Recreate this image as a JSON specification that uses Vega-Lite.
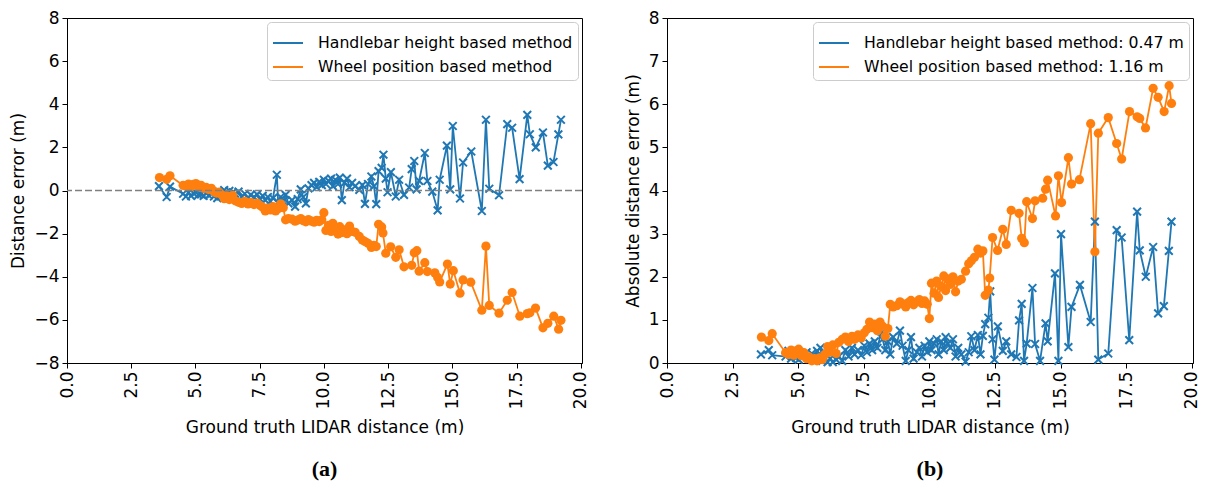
{
  "$schema": "https://vega.github.io/schema/vega-lite/v6.json",
  "padding": {"left": 9, "top": 8, "right": 5, "bottom": 4},
  "spacing": 33,
  "background": "white",
  "resolve": {"scale": {"color": "independent"}, "legend": {"color": "independent"}},
  "config": {
    "view": {"stroke": "black", "strokeWidth": 1},
    "axis": {"grid": false, "domainColor": "black", "tickColor": "black", "labelColor": "black", "titleColor": "black", "labelFont": "DejaVu Sans", "titleFont": "DejaVu Sans", "labelFontSize": 17, "titleFontSize": 17, "titleFontWeight": "normal", "tickSize": 5, "labelPadding": 3},
    "axisX": {"titlePadding": 11},
    "axisY": {"titlePadding": 6},
    "legend": {"orient": "top-right", "offset": 4, "fillColor": "white", "strokeColor": "#cccccc", "cornerRadius": 4, "padding": 5, "labelFont": "DejaVu Sans", "labelFontSize": 15.7, "labelColor": "black", "labelLimit": 0, "symbolType": "stroke", "symbolSize": 900, "symbolStrokeWidth": 2, "rowPadding": -6, "labelOffset": 14},
    "title": {"font": "Liberation Serif", "fontSize": 22, "fontWeight": "bold", "color": "black", "orient": "bottom", "anchor": "middle", "offset": 23}
  },
  "datasets": {
    "d": [
      {"m":"h","x":3.58,"e":0.20,"a":0.20},{"m":"h","x":3.88,"e":-0.30,"a":0.30},{"m":"h","x":4.01,"e":0.18,"a":0.18},{"m":"h","x":4.52,"e":-0.15,"a":0.15},{"m":"h","x":4.63,"e":-0.28,"a":0.28},{"m":"h","x":4.73,"e":-0.10,"a":0.10},{"m":"h","x":4.83,"e":-0.25,"a":0.25},{"m":"h","x":4.92,"e":-0.12,"a":0.12},{"m":"h","x":5.02,"e":-0.08,"a":0.08},{"m":"h","x":5.12,"e":-0.20,"a":0.20},{"m":"h","x":5.22,"e":-0.18,"a":0.18},{"m":"h","x":5.32,"e":-0.25,"a":0.25},{"m":"h","x":5.42,"e":-0.12,"a":0.12},{"m":"h","x":5.52,"e":-0.22,"a":0.22},{"m":"h","x":5.62,"e":-0.15,"a":0.15},{"m":"h","x":5.72,"e":-0.28,"a":0.28},{"m":"h","x":5.85,"e":-0.35,"a":0.35},{"m":"h","x":5.92,"e":-0.05,"a":0.05},{"m":"h","x":6.02,"e":-0.22,"a":0.22},{"m":"h","x":6.12,"e":0.02,"a":0.02},{"m":"h","x":6.22,"e":-0.10,"a":0.10},{"m":"h","x":6.32,"e":-0.02,"a":0.02},{"m":"h","x":6.45,"e":-0.08,"a":0.08},{"m":"h","x":6.55,"e":-0.15,"a":0.15},{"m":"h","x":6.68,"e":-0.05,"a":0.05},{"m":"h","x":6.80,"e":-0.30,"a":0.30},{"m":"h","x":6.92,"e":-0.15,"a":0.15},{"m":"h","x":7.05,"e":-0.35,"a":0.35},{"m":"h","x":7.15,"e":-0.20,"a":0.20},{"m":"h","x":7.28,"e":-0.30,"a":0.30},{"m":"h","x":7.40,"e":-0.18,"a":0.18},{"m":"h","x":7.52,"e":-0.40,"a":0.40},{"m":"h","x":7.62,"e":-0.25,"a":0.25},{"m":"h","x":7.72,"e":-0.45,"a":0.45},{"m":"h","x":7.82,"e":-0.30,"a":0.30},{"m":"h","x":7.92,"e":-0.50,"a":0.50},{"m":"h","x":8.02,"e":-0.35,"a":0.35},{"m":"h","x":8.17,"e":0.73,"a":0.73},{"m":"h","x":8.22,"e":-0.55,"a":0.55},{"m":"h","x":8.32,"e":-0.30,"a":0.30},{"m":"h","x":8.42,"e":-0.50,"a":0.50},{"m":"h","x":8.51,"e":-0.20,"a":0.20},{"m":"h","x":8.62,"e":-0.60,"a":0.60},{"m":"h","x":8.76,"e":-0.45,"a":0.45},{"m":"h","x":8.88,"e":-0.75,"a":0.75},{"m":"h","x":8.98,"e":-0.40,"a":0.40},{"m":"h","x":9.10,"e":0.05,"a":0.05},{"m":"h","x":9.20,"e":-0.30,"a":0.30},{"m":"h","x":9.30,"e":-0.60,"a":0.60},{"m":"h","x":9.40,"e":0.10,"a":0.10},{"m":"h","x":9.52,"e":0.25,"a":0.25},{"m":"h","x":9.62,"e":0.35,"a":0.35},{"m":"h","x":9.72,"e":0.15,"a":0.15},{"m":"h","x":9.82,"e":0.40,"a":0.40},{"m":"h","x":9.92,"e":0.25,"a":0.25},{"m":"h","x":10.00,"e":0.50,"a":0.50},{"m":"h","x":10.08,"e":0.30,"a":0.30},{"m":"h","x":10.18,"e":0.45,"a":0.45},{"m":"h","x":10.28,"e":0.55,"a":0.55},{"m":"h","x":10.35,"e":0.20,"a":0.20},{"m":"h","x":10.45,"e":0.50,"a":0.50},{"m":"h","x":10.55,"e":0.30,"a":0.30},{"m":"h","x":10.62,"e":0.60,"a":0.60},{"m":"h","x":10.70,"e":-0.45,"a":0.45},{"m":"h","x":10.80,"e":0.35,"a":0.35},{"m":"h","x":10.90,"e":0.55,"a":0.55},{"m":"h","x":11.00,"e":0.15,"a":0.15},{"m":"h","x":11.10,"e":0.35,"a":0.35},{"m":"h","x":11.22,"e":0.20,"a":0.20},{"m":"h","x":11.38,"e":0.03,"a":0.03},{"m":"h","x":11.50,"e":0.25,"a":0.25},{"m":"h","x":11.60,"e":-0.62,"a":0.62},{"m":"h","x":11.72,"e":0.30,"a":0.30},{"m":"h","x":11.85,"e":0.65,"a":0.65},{"m":"h","x":11.95,"e":0.20,"a":0.20},{"m":"h","x":12.04,"e":-0.63,"a":0.63},{"m":"h","x":12.13,"e":0.90,"a":0.90},{"m":"h","x":12.25,"e":1.05,"a":1.05},{"m":"h","x":12.32,"e":1.66,"a":1.66},{"m":"h","x":12.41,"e":0.55,"a":0.55},{"m":"h","x":12.48,"e":-0.08,"a":0.08},{"m":"h","x":12.61,"e":0.85,"a":0.85},{"m":"h","x":12.80,"e":-0.28,"a":0.28},{"m":"h","x":12.93,"e":0.50,"a":0.50},{"m":"h","x":13.12,"e":-0.20,"a":0.20},{"m":"h","x":13.32,"e":0.14,"a":0.14},{"m":"h","x":13.42,"e":0.99,"a":0.99},{"m":"h","x":13.52,"e":1.37,"a":1.37},{"m":"h","x":13.61,"e":0.05,"a":0.05},{"m":"h","x":13.71,"e":0.45,"a":0.45},{"m":"h","x":13.93,"e":1.74,"a":1.74},{"m":"h","x":14.03,"e":0.44,"a":0.44},{"m":"h","x":14.22,"e":-0.05,"a":0.05},{"m":"h","x":14.43,"e":-0.92,"a":0.92},{"m":"h","x":14.51,"e":0.50,"a":0.50},{"m":"h","x":14.79,"e":2.08,"a":2.08},{"m":"h","x":14.92,"e":0.05,"a":0.05},{"m":"h","x":15.02,"e":2.99,"a":2.99},{"m":"h","x":15.30,"e":-0.37,"a":0.37},{"m":"h","x":15.42,"e":1.30,"a":1.30},{"m":"h","x":15.74,"e":1.81,"a":1.81},{"m":"h","x":16.15,"e":-0.95,"a":0.95},{"m":"h","x":16.31,"e":3.28,"a":3.28},{"m":"h","x":16.44,"e":0.08,"a":0.08},{"m":"h","x":16.82,"e":-0.22,"a":0.22},{"m":"h","x":17.14,"e":3.08,"a":3.08},{"m":"h","x":17.33,"e":2.91,"a":2.91},{"m":"h","x":17.62,"e":0.53,"a":0.53},{"m":"h","x":17.92,"e":3.51,"a":3.51},{"m":"h","x":18.02,"e":2.61,"a":2.61},{"m":"h","x":18.25,"e":2.00,"a":2.00},{"m":"h","x":18.53,"e":2.69,"a":2.69},{"m":"h","x":18.72,"e":1.15,"a":1.15},{"m":"h","x":18.94,"e":1.32,"a":1.32},{"m":"h","x":19.13,"e":2.60,"a":2.60},{"m":"h","x":19.23,"e":3.28,"a":3.28},
      {"m":"w","x":3.60,"e":0.60,"a":0.60},{"m":"w","x":3.88,"e":0.52,"a":0.52},{"m":"w","x":4.01,"e":0.68,"a":0.68},{"m":"w","x":4.52,"e":0.24,"a":0.24},{"m":"w","x":4.63,"e":0.20,"a":0.20},{"m":"w","x":4.73,"e":0.30,"a":0.30},{"m":"w","x":4.83,"e":0.18,"a":0.18},{"m":"w","x":4.92,"e":0.28,"a":0.28},{"m":"w","x":5.02,"e":0.32,"a":0.32},{"m":"w","x":5.12,"e":0.17,"a":0.17},{"m":"w","x":5.22,"e":0.24,"a":0.24},{"m":"w","x":5.32,"e":0.10,"a":0.10},{"m":"w","x":5.42,"e":0.14,"a":0.14},{"m":"w","x":5.52,"e":0.05,"a":0.05},{"m":"w","x":5.62,"e":0.10,"a":0.10},{"m":"w","x":5.72,"e":-0.05,"a":0.05},{"m":"w","x":5.82,"e":-0.12,"a":0.12},{"m":"w","x":5.92,"e":-0.08,"a":0.08},{"m":"w","x":6.02,"e":-0.20,"a":0.20},{"m":"w","x":6.12,"e":-0.38,"a":0.38},{"m":"w","x":6.22,"e":-0.25,"a":0.25},{"m":"w","x":6.32,"e":-0.42,"a":0.42},{"m":"w","x":6.45,"e":-0.22,"a":0.22},{"m":"w","x":6.55,"e":-0.48,"a":0.48},{"m":"w","x":6.68,"e":-0.55,"a":0.55},{"m":"w","x":6.80,"e":-0.60,"a":0.60},{"m":"w","x":6.92,"e":-0.50,"a":0.50},{"m":"w","x":7.05,"e":-0.62,"a":0.62},{"m":"w","x":7.15,"e":-0.55,"a":0.55},{"m":"w","x":7.28,"e":-0.65,"a":0.65},{"m":"w","x":7.40,"e":-0.58,"a":0.58},{"m":"w","x":7.52,"e":-0.70,"a":0.70},{"m":"w","x":7.62,"e":-0.78,"a":0.78},{"m":"w","x":7.72,"e":-0.95,"a":0.95},{"m":"w","x":7.82,"e":-0.82,"a":0.82},{"m":"w","x":7.92,"e":-0.90,"a":0.90},{"m":"w","x":8.02,"e":-0.75,"a":0.75},{"m":"w","x":8.12,"e":-0.95,"a":0.95},{"m":"w","x":8.22,"e":-0.85,"a":0.85},{"m":"w","x":8.32,"e":-0.62,"a":0.62},{"m":"w","x":8.42,"e":-0.80,"a":0.80},{"m":"w","x":8.51,"e":-1.36,"a":1.36},{"m":"w","x":8.62,"e":-1.30,"a":1.30},{"m":"w","x":8.76,"e":-1.33,"a":1.33},{"m":"w","x":8.88,"e":-1.42,"a":1.42},{"m":"w","x":8.98,"e":-1.37,"a":1.37},{"m":"w","x":9.10,"e":-1.30,"a":1.30},{"m":"w","x":9.20,"e":-1.40,"a":1.40},{"m":"w","x":9.30,"e":-1.45,"a":1.45},{"m":"w","x":9.40,"e":-1.35,"a":1.35},{"m":"w","x":9.52,"e":-1.42,"a":1.42},{"m":"w","x":9.62,"e":-1.47,"a":1.47},{"m":"w","x":9.72,"e":-1.38,"a":1.38},{"m":"w","x":9.82,"e":-1.44,"a":1.44},{"m":"w","x":9.92,"e":-1.36,"a":1.36},{"m":"w","x":10.00,"e":-1.03,"a":1.03},{"m":"w","x":10.08,"e":-1.85,"a":1.85},{"m":"w","x":10.18,"e":-1.62,"a":1.62},{"m":"w","x":10.28,"e":-1.90,"a":1.90},{"m":"w","x":10.35,"e":-1.52,"a":1.52},{"m":"w","x":10.45,"e":-1.78,"a":1.78},{"m":"w","x":10.55,"e":-2.02,"a":2.02},{"m":"w","x":10.62,"e":-1.68,"a":1.68},{"m":"w","x":10.70,"e":-1.95,"a":1.95},{"m":"w","x":10.80,"e":-1.82,"a":1.82},{"m":"w","x":10.90,"e":-2.00,"a":2.00},{"m":"w","x":11.00,"e":-1.65,"a":1.65},{"m":"w","x":11.10,"e":-1.90,"a":1.90},{"m":"w","x":11.22,"e":-1.94,"a":1.94},{"m":"w","x":11.38,"e":-2.13,"a":2.13},{"m":"w","x":11.50,"e":-2.30,"a":2.30},{"m":"w","x":11.60,"e":-2.37,"a":2.37},{"m":"w","x":11.72,"e":-2.45,"a":2.45},{"m":"w","x":11.85,"e":-2.64,"a":2.64},{"m":"w","x":11.95,"e":-2.55,"a":2.55},{"m":"w","x":12.04,"e":-2.60,"a":2.60},{"m":"w","x":12.13,"e":-1.57,"a":1.57},{"m":"w","x":12.25,"e":-1.69,"a":1.69},{"m":"w","x":12.30,"e":-1.97,"a":1.97},{"m":"w","x":12.41,"e":-2.91,"a":2.91},{"m":"w","x":12.60,"e":-2.61,"a":2.61},{"m":"w","x":12.80,"e":-3.10,"a":3.10},{"m":"w","x":12.93,"e":-2.75,"a":2.75},{"m":"w","x":13.12,"e":-3.54,"a":3.54},{"m":"w","x":13.42,"e":-3.47,"a":3.47},{"m":"w","x":13.52,"e":-2.89,"a":2.89},{"m":"w","x":13.62,"e":-2.79,"a":2.79},{"m":"w","x":13.71,"e":-3.74,"a":3.74},{"m":"w","x":13.93,"e":-3.35,"a":3.35},{"m":"w","x":14.03,"e":-3.76,"a":3.76},{"m":"w","x":14.32,"e":-3.82,"a":3.82},{"m":"w","x":14.43,"e":-4.03,"a":4.03},{"m":"w","x":14.51,"e":-4.24,"a":4.24},{"m":"w","x":14.81,"e":-3.41,"a":3.41},{"m":"w","x":14.92,"e":-4.34,"a":4.34},{"m":"w","x":15.04,"e":-3.72,"a":3.72},{"m":"w","x":15.30,"e":-4.76,"a":4.76},{"m":"w","x":15.42,"e":-4.15,"a":4.15},{"m":"w","x":15.72,"e":-4.25,"a":4.25},{"m":"w","x":16.15,"e":-5.55,"a":5.55},{"m":"w","x":16.31,"e":-2.58,"a":2.58},{"m":"w","x":16.44,"e":-5.33,"a":5.33},{"m":"w","x":16.82,"e":-5.69,"a":5.69},{"m":"w","x":17.14,"e":-5.09,"a":5.09},{"m":"w","x":17.33,"e":-4.73,"a":4.73},{"m":"w","x":17.63,"e":-5.83,"a":5.83},{"m":"w","x":17.92,"e":-5.71,"a":5.71},{"m":"w","x":18.02,"e":-5.67,"a":5.67},{"m":"w","x":18.24,"e":-5.45,"a":5.45},{"m":"w","x":18.53,"e":-6.37,"a":6.37},{"m":"w","x":18.72,"e":-6.16,"a":6.16},{"m":"w","x":18.95,"e":-5.83,"a":5.83},{"m":"w","x":19.14,"e":-6.43,"a":6.43},{"m":"w","x":19.23,"e":-6.02,"a":6.02}
    ],
    "zero": [{"z": 0}]
  },
  "hconcat": [
    {
      "width": 515, "height": 345,
      "title": {"text": "(a)"},
      "layer": [
        {
          "data": {"name": "d"},
          "mark": {"type": "line", "strokeWidth": 1.8},
          "encoding": {
            "x": {"field": "x", "type": "quantitative", "scale": {"domain": [0, 20.05], "nice": false, "zero": false}, "axis": {"values": [0, 2.5, 5, 7.5, 10, 12.5, 15, 17.5, 20], "format": ".1f", "labelAngle": 270, "title": "Ground truth LIDAR distance (m)"}},
            "y": {"field": "e", "type": "quantitative", "scale": {"domain": [-8, 8], "nice": false}, "axis": {"values": [-8, -6, -4, -2, 0, 2, 4, 6, 8], "title": "Distance error (m)"}},
            "color": {"field": "m", "type": "nominal", "scale": {"domain": ["h", "w"], "range": ["#1f77b4", "#ff7f0e"]}, "legend": {"title": null, "labelExpr": "datum.value == 'h' ? 'Handlebar height based method' : 'Wheel position based method'"}}
          }
        },
        {
          "data": {"name": "d"},
          "transform": [{"filter": "datum.m == 'h'"}],
          "mark": {"type": "point", "shape": "M-1,-1L1,1M-1,1L1,-1", "filled": false, "stroke": "#1f77b4", "strokeWidth": 2, "size": 60, "opacity": 1},
          "encoding": {"x": {"field": "x", "type": "quantitative"}, "y": {"field": "e", "type": "quantitative"}}
        },
        {
          "data": {"name": "d"},
          "transform": [{"filter": "datum.m == 'w'"}],
          "mark": {"type": "circle", "color": "#ff7f0e", "size": 85, "opacity": 1},
          "encoding": {"x": {"field": "x", "type": "quantitative"}, "y": {"field": "e", "type": "quantitative"}}
        },
        {
          "data": {"name": "zero"},
          "mark": {"type": "rule", "color": "#808080", "strokeDash": [7, 3], "strokeWidth": 1.5},
          "encoding": {"y": {"field": "z", "type": "quantitative"}}
        }
      ]
    },
    {
      "width": 526, "height": 345,
      "title": {"text": "(b)"},
      "layer": [
        {
          "data": {"name": "d"},
          "mark": {"type": "line", "strokeWidth": 1.8},
          "encoding": {
            "x": {"field": "x", "type": "quantitative", "scale": {"domain": [0, 20.05], "nice": false, "zero": false}, "axis": {"values": [0, 2.5, 5, 7.5, 10, 12.5, 15, 17.5, 20], "format": ".1f", "labelAngle": 270, "title": "Ground truth LIDAR distance (m)"}},
            "y": {"field": "a", "type": "quantitative", "scale": {"domain": [0, 8], "nice": false}, "axis": {"values": [0, 1, 2, 3, 4, 5, 6, 7, 8], "title": "Absolute distance error (m)"}},
            "color": {"field": "m", "type": "nominal", "scale": {"domain": ["h", "w"], "range": ["#1f77b4", "#ff7f0e"]}, "legend": {"title": null, "labelExpr": "datum.value == 'h' ? 'Handlebar height based method: 0.47 m' : 'Wheel position based method: 1.16 m'"}}
          }
        },
        {
          "data": {"name": "d"},
          "transform": [{"filter": "datum.m == 'h'"}],
          "mark": {"type": "point", "shape": "M-1,-1L1,1M-1,1L1,-1", "filled": false, "stroke": "#1f77b4", "strokeWidth": 2, "size": 60, "opacity": 1},
          "encoding": {"x": {"field": "x", "type": "quantitative"}, "y": {"field": "a", "type": "quantitative"}}
        },
        {
          "data": {"name": "d"},
          "transform": [{"filter": "datum.m == 'w'"}],
          "mark": {"type": "circle", "color": "#ff7f0e", "size": 85, "opacity": 1},
          "encoding": {"x": {"field": "x", "type": "quantitative"}, "y": {"field": "a", "type": "quantitative"}}
        }
      ]
    }
  ]
}
